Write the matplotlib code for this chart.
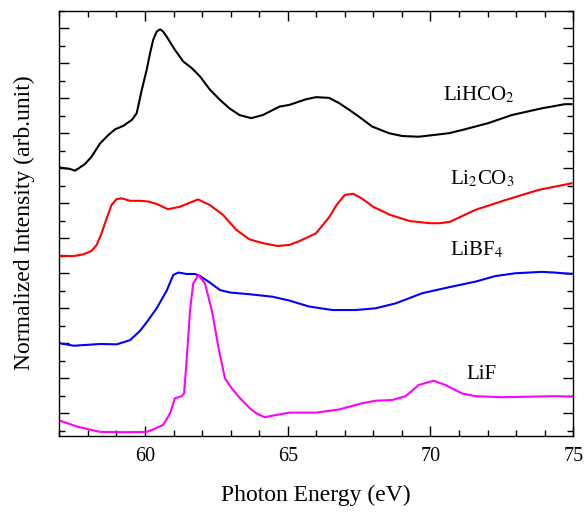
import matplotlib
matplotlib.use("Agg")
import matplotlib.pyplot as plt
from matplotlib.ticker import MultipleLocator, NullFormatter

plt.rcParams['font.family'] = ['Liberation Serif', 'DejaVu Serif']
plt.rcParams['mathtext.fontset'] = 'stix'

# LiHCO2
e_hco2 = [57.02, 57.37, 57.55, 57.9, 58.13, 58.43, 58.72, 58.95, 59.24, 59.54, 59.71, 59.89, 60.06,
          60.18, 60.29, 60.41, 60.53, 60.64, 60.76, 61.05, 61.34, 61.64, 61.93, 62.28, 62.63, 62.96,
          63.31, 63.72, 64.13, 64.71, 65.06, 65.64, 65.99, 66.45, 66.80, 67.15, 67.50, 67.96, 68.55,
          69.01, 69.59, 70.64, 71.10, 72.03, 72.85, 73.89, 74.71, 74.94]
i_hco2 = [7.02, 6.98, 6.93, 7.12, 7.33, 7.71, 7.95, 8.11, 8.21, 8.38, 8.57, 9.24, 9.81,
          10.29, 10.67, 10.9, 10.97, 10.9, 10.76, 10.38, 10.05, 9.86, 9.62, 9.24, 8.95, 8.71,
          8.52, 8.43, 8.52, 8.76, 8.81, 8.97, 9.03, 9.01, 8.86, 8.67, 8.47, 8.19, 8.0,
          7.92, 7.9, 8.0, 8.09, 8.29, 8.52, 8.71, 8.83, 8.83]

# Li2CO3
e_co3 = [57.02, 57.49, 57.84, 58.13, 58.31, 58.48, 58.66, 58.83, 59.01, 59.18, 59.48, 59.83, 60.12,
         60.41, 60.81, 61.22, 61.86, 62.27, 62.73, 63.2, 63.66, 64.13, 64.65, 65.06, 65.41, 65.99,
         66.45, 66.71, 67.0, 67.29, 67.59, 67.99, 68.58, 69.28, 69.98, 70.33, 70.68, 71.57, 72.62,
         73.78, 74.94]
i_co3 = [4.5, 4.49, 4.54, 4.64, 4.81, 5.14, 5.57, 5.95, 6.12, 6.14, 6.07, 6.07, 6.05,
         5.98, 5.83, 5.9, 6.11, 5.95, 5.67, 5.24, 4.97, 4.86, 4.78, 4.81, 4.92, 5.14,
         5.6, 5.95, 6.24, 6.27, 6.14, 5.9, 5.67, 5.49, 5.43, 5.43, 5.47, 5.81, 6.09,
         6.38, 6.57]

# LiBF4
e_bf4 = [57.03, 57.5, 58.43, 59.01, 59.48, 59.83, 60.06, 60.41, 60.76, 60.99, 61.17, 61.46, 61.75,
         61.93, 62.28, 62.63, 62.98, 63.68, 64.47, 65.06, 65.75, 66.57, 67.38, 68.08, 68.78, 69.71,
         70.64, 71.57, 72.27, 72.97, 73.89, 74.36, 74.94]
i_bf4 = [2.0, 1.93, 1.98, 1.97, 2.09, 2.36, 2.6, 3.0, 3.5, 3.95, 4.02, 3.98, 3.98,
         3.92, 3.73, 3.52, 3.45, 3.4, 3.33, 3.22, 3.05, 2.95, 2.95, 3.0, 3.14, 3.43,
         3.6, 3.76, 3.92, 4.0, 4.04, 4.02, 3.98]

# LiF
e_lif = [57.03, 57.62, 58.43, 59.36, 60.06, 60.29, 60.64, 60.88, 61.05, 61.29, 61.37, 61.46, 61.58,
         61.69, 61.87, 62.1, 62.34, 62.57, 62.8, 63.04, 63.33, 63.68, 63.9, 64.19, 64.59, 65.06,
         65.99, 66.8, 67.62, 68.08, 68.66, 69.13, 69.59, 70.11, 70.52, 71.1, 71.57, 72.5, 74.36, 74.94]
i_lif = [-0.21, -0.38, -0.53, -0.54, -0.53, -0.46, -0.33, 0.0, 0.43, 0.49, 0.57, 1.52, 2.95,
         3.71, 3.95, 3.71, 2.95, 1.9, 1.0, 0.71, 0.43, 0.14, 0.0, -0.11, -0.05, 0.02,
         0.02, 0.11, 0.29, 0.36, 0.38, 0.49, 0.81, 0.93, 0.81, 0.57, 0.49, 0.46, 0.49, 0.48]

labels = ['LiHCO$_2$', 'Li$_2$CO$_3$', 'LiBF$_4$', 'LiF']
label_pos = [(71.7, 9.1), (71.8, 6.7), (71.6, 4.67), (71.8, 1.1)]
colors = ['black', 'red', 'blue', 'magenta']

fig = plt.figure(figsize=(5.87, 5.14), dpi=100)
ax = fig.add_axes([0.101, 0.1527, 0.8756, 0.8265])

series = [(e_hco2, i_hco2), (e_co3, i_co3), (e_bf4, i_bf4), (e_lif, i_lif)]
for (e, i), c in zip(series, colors):
    ax.plot(e, i, color=c, lw=1.5)

for lab, (x, y) in zip(labels, label_pos):
    ax.text(x, y, lab, fontsize=15, ha='center', va='center')

ax.set_xlim(57, 75)
ax.set_ylim(-0.634, 11.50)
ax.xaxis.set_major_locator(MultipleLocator(5))
ax.xaxis.set_minor_locator(MultipleLocator(1))
ax.yaxis.set_major_locator(MultipleLocator(1))
ax.yaxis.set_minor_locator(MultipleLocator(0.5))
ax.yaxis.set_major_formatter(NullFormatter())
ax.tick_params(which='both', direction='in', top=True, right=True, labelsize=14.5, width=1)
ax.tick_params(axis='x', which='major', pad=8)
ax.tick_params(which='major', length=7)
ax.tick_params(which='minor', length=4)
for s in ax.spines.values():
    s.set_linewidth(1)

ax.set_xlabel('Photon Energy (eV)', fontsize=17, labelpad=14)
ax.set_ylabel('Normalized Intensity (arb.unit)', fontsize=17, labelpad=14)

fig.savefig('out.png', dpi=100)
